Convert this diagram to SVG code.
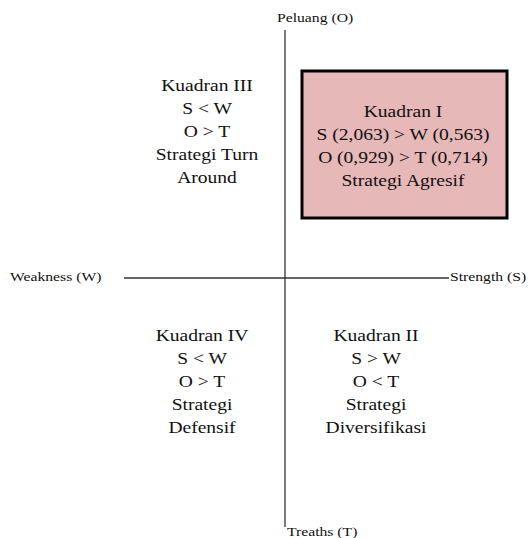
<svg xmlns="http://www.w3.org/2000/svg" width="531" height="538" viewBox="0 0 531 538">
<style>
.q{font-family:"Liberation Serif","Times New Roman",serif;font-size:17px;fill:#111;text-anchor:middle}
.ax{font-family:"Liberation Serif","Times New Roman",serif;font-size:13.4px;fill:#111}
.axis{stroke:#333;stroke-width:1.3;fill:none}
</style>
<rect width="531" height="538" fill="#fff"/>
<g id="connectors">
<line class="axis" x1="285" y1="30" x2="285" y2="527"/>
<line class="axis" x1="124" y1="278" x2="449" y2="278"/>
</g>
<g id="label-o"><text class="ax" transform="translate(277 22) scale(1.17 1)">Peluang (O)</text></g>
<g id="label-t"><text class="ax" transform="translate(287 536) scale(1.17 1)">Treaths (T)</text></g>
<g id="label-w"><text class="ax" transform="translate(10 281) scale(1.17 1)">Weakness (W)</text></g>
<g id="label-s"><text class="ax" transform="translate(450 281) scale(1.17 1)">Strength (S)</text></g>
<g id="kuadran-1">
<rect x="302" y="71" width="205" height="147" fill="#e6b8b7" stroke="#000" stroke-width="3"/>
<text class="q" transform="translate(403 0) scale(1.15 1)"><tspan x="0" y="117">Kuadran I</tspan><tspan x="0" y="140">S (2,063) &gt; W (0,563)</tspan><tspan x="0" y="163">O (0,929) &gt; T (0,714)</tspan><tspan x="0" y="186">Strategi Agresif</tspan></text>
</g>
<g id="kuadran-3">
<text class="q" transform="translate(207 0) scale(1.15 1)"><tspan x="0" y="91">Kuadran III</tspan><tspan x="0" y="114">S &lt; W</tspan><tspan x="0" y="137">O &gt; T</tspan><tspan x="0" y="160">Strategi Turn</tspan><tspan x="0" y="183">Around</tspan></text>
</g>
<g id="kuadran-4">
<text class="q" transform="translate(202 0) scale(1.15 1)"><tspan x="0" y="341">Kuadran IV</tspan><tspan x="0" y="364">S &lt; W</tspan><tspan x="0" y="387">O &gt; T</tspan><tspan x="0" y="410">Strategi</tspan><tspan x="0" y="433">Defensif</tspan></text>
</g>
<g id="kuadran-2">
<text class="q" transform="translate(376 0) scale(1.15 1)"><tspan x="0" y="341">Kuadran II</tspan><tspan x="0" y="364">S &gt; W</tspan><tspan x="0" y="387">O &lt; T</tspan><tspan x="0" y="410">Strategi</tspan><tspan x="0" y="433">Diversifikasi</tspan></text>
</g>
</svg>
